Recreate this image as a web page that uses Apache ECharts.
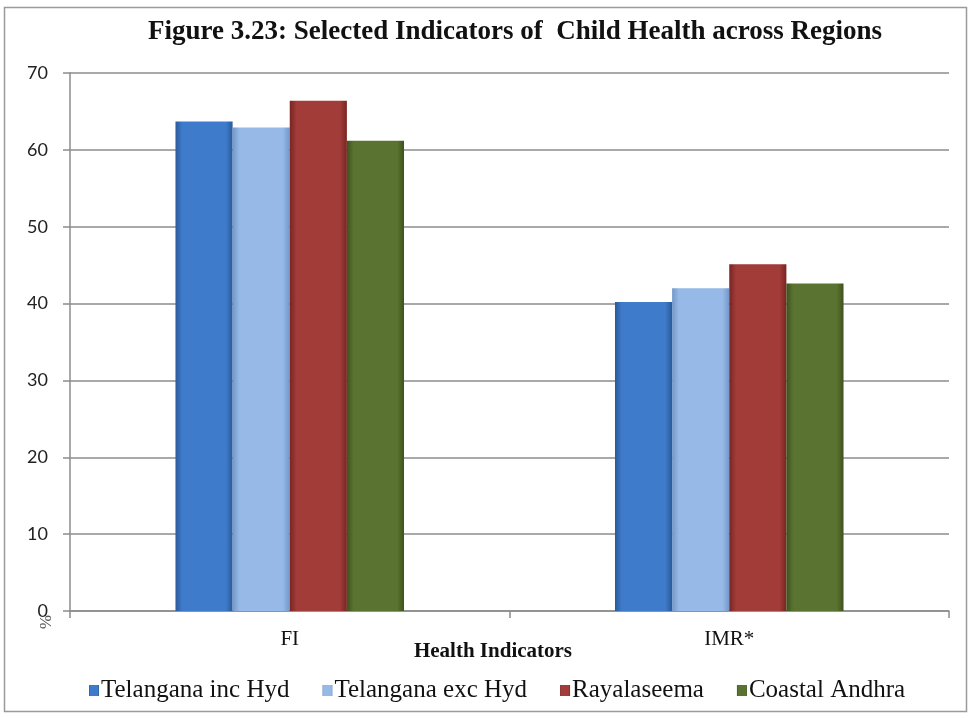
<!DOCTYPE html>
<html>
<head>
<meta charset="utf-8">
<script src="https://cdn.jsdelivr.net/npm/echarts@6/dist/echarts.min.js"></script>
<style>
html,body{margin:0;padding:0;background:#fff;}
#chart{width:972px;height:719px;}
</style>
</head>
<body>
<div id="chart"></div>
<script>
var categories = ['FI', 'IMR*'];
var seriesNames = ['Telangana inc Hyd', 'Telangana exc Hyd', 'Rayalaseema', 'Coastal Andhra'];
var telInc = [63.7, 40.2];
var telExc = [62.9, 42.0];
var rayal = [66.4, 45.1];
var coastal = [61.2, 42.6];
var yTicks = [0, 10, 20, 30, 40, 50, 60, 70];

var colors = [
  {mid: '#3f7bcb', edge: '#2a5a9a'},
  {mid: '#96b9e8', edge: '#7297c8'},
  {mid: '#a13c39', edge: '#782522'},
  {mid: '#5b7331', edge: '#3d521d'}
];
function grad(c) {
  return new echarts.graphic.LinearGradient(0, 0, 1, 0, [
    {offset: 0, color: c.edge},
    {offset: 0.12, color: c.mid},
    {offset: 0.88, color: c.mid},
    {offset: 1, color: c.edge}
  ]);
}
var dataArr = [telInc, telExc, rayal, coastal];
var series = seriesNames.map(function (n, i) {
  return {
    name: n,
    type: 'bar',
    data: dataArr[i],
    barGap: '0%',
    barCategoryGap: '48%',
    itemStyle: {color: grad(colors[i])},
    emphasis: {disabled: true}
  };
});

var chart = echarts.init(document.getElementById('chart'));
chart.setOption({
  animation: false,
  backgroundColor: '#fff',
  title: {
    text: 'Figure 3.23: Selected Indicators of  Child Health across Regions',
    left: 510, top: 14, textAlign: 'center',
    textStyle: {fontFamily: 'Liberation Serif', fontWeight: 'bold', fontSize: 27, color: '#111'}
  },
  legend: {
    data: seriesNames,
    left: 84, top: 673,
    itemWidth: 10, itemHeight: 11, itemGap: 33,
    icon: 'rect',
    textStyle: {fontFamily: 'Liberation Serif', fontSize: 25, color: '#111', padding: [0, 0, 0, -3]}
  },
  grid: {left: 70, right: 23, top: 73, bottom: 108, containLabel: false},
  xAxis: {
    type: 'category',
    data: categories,
    name: 'Health Indicators',
    nameLocation: 'middle',
    nameGap: 30,
    nameMoveOverlap: false,
    nameTextStyle: {fontFamily: 'Liberation Serif', fontWeight: 'bold', fontSize: 21, color: '#111', padding: [0, 33, 0, 0]},
    axisLine: {show: true, lineStyle: {color: '#8c8c8c', width: 1.5}},
    axisTick: {show: true, length: 7, lineStyle: {color: '#8c8c8c', width: 1.5}},
    axisLabel: {fontFamily: 'Liberation Serif', fontSize: 21, color: '#111', margin: 18}
  },
  yAxis: {
    type: 'value',
    min: 0, max: 70, interval: 10,
    axisLine: {show: true, lineStyle: {color: '#8c8c8c', width: 1.5}},
    axisTick: {show: true, length: 7, lineStyle: {color: '#8c8c8c', width: 1.5}},
    splitLine: {lineStyle: {color: '#8c8c8c', width: 1.5}},
    axisLabel: {fontFamily: 'Lato', fontSize: 18, color: '#222', margin: 22,
      formatter: function (v) { return yTicks.indexOf(v) >= 0 ? String(v) : ''; }}
  },
  graphic: [{
    type: 'rect', shape: {x: 4.5, y: 7.5, width: 962, height: 704},
    style: {fill: 'none', stroke: '#9a9a9a', lineWidth: 1.5}, silent: true
  }, {
    type: 'text', x: 44, y: 622, rotation: -Math.PI / 2, silent: true,
    style: {text: '%', fontFamily: 'Liberation Serif', fontSize: 17, fill: '#555', align: 'center', verticalAlign: 'middle'}
  }],
  series: series
});
</script>
</body>
</html>
